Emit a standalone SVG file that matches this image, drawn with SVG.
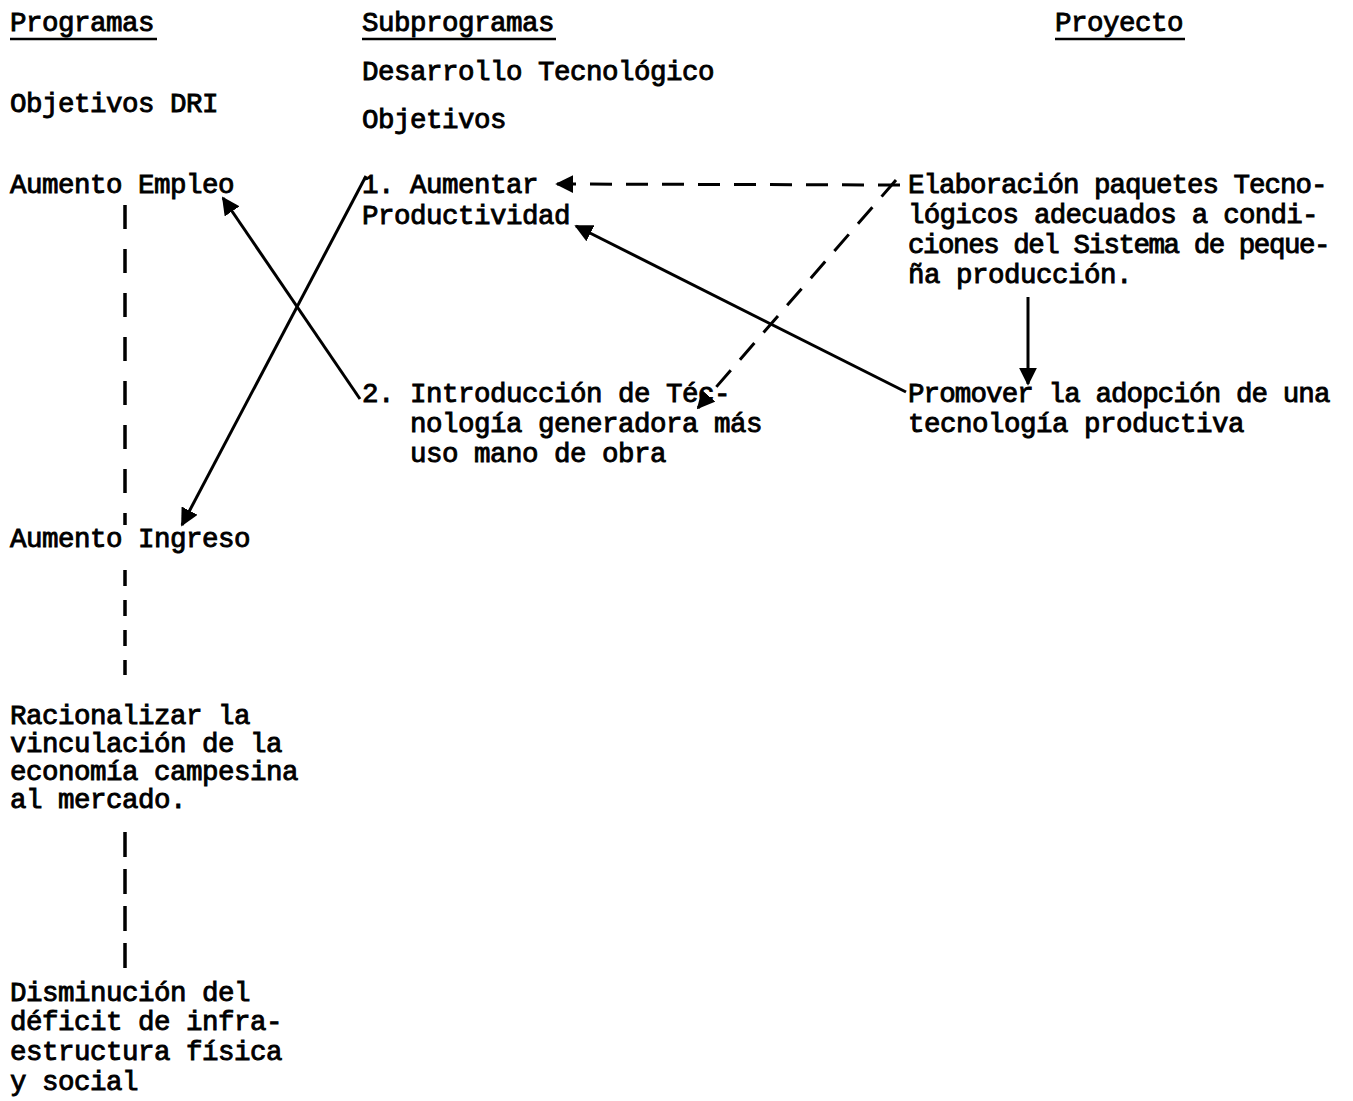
<svg xmlns="http://www.w3.org/2000/svg" width="1353" height="1101" viewBox="0 0 1353 1101">
<style>
text{font-family:"Liberation Mono","DejaVu Sans Mono",monospace;font-size:27.5px;letter-spacing:-0.5px;fill:#000;stroke:#000;stroke-width:0.9}
.ul{stroke:#000;stroke-width:2.5}
.c{stroke:#000;stroke-width:3;fill:none}
.d{stroke:#000;stroke-width:3.5;fill:none;stroke-dasharray:24 20}
.dd{stroke:#000;stroke-width:3;fill:none;stroke-dasharray:22 14}
</style>
<defs>
<marker id="ah" viewBox="0 0 10 10" refX="9" refY="5" markerWidth="6" markerHeight="6" markerUnits="strokeWidth" orient="auto">
<path d="M0,0 L10,5 L0,10 z" fill="#000"/>
</marker>
</defs>
<rect width="1353" height="1101" fill="#fff"/>

<g id="hdr-programas"><text x="10" y="31">Programas</text><line class="ul" x1="10" y1="39" x2="157" y2="39"/></g>
<g id="hdr-subprogramas"><text x="362" y="31">Subprogramas</text><line class="ul" x1="362" y1="39" x2="556" y2="39"/></g>
<g id="hdr-proyecto"><text x="1055" y="31">Proyecto</text><line class="ul" x1="1055" y1="39" x2="1185" y2="39"/></g>

<g id="desarrollo"><text x="362" y="80">Desarrollo Tecnológico</text></g>
<g id="objetivos-dri"><text x="10" y="112">Objetivos DRI</text></g>
<g id="objetivos"><text x="362" y="128">Objetivos</text></g>

<g id="aumento-empleo"><text x="10" y="193">Aumento Empleo</text></g>
<g id="aumento-ingreso"><text x="10" y="547">Aumento Ingreso</text></g>
<g id="racionalizar"><text x="10" y="724">Racionalizar la</text><text x="10" y="752">vinculación de la</text><text x="10" y="780">economía campesina</text><text x="10" y="808">al mercado.</text></g>
<g id="disminucion"><text x="10" y="1001">Disminución del</text><text x="10" y="1030">déficit de infra-</text><text x="10" y="1060">estructura física</text><text x="10" y="1090">y social</text></g>

<g id="obj1"><text x="362" y="193">1. Aumentar</text><text x="362" y="224">Productividad</text></g>
<g id="obj2"><text x="362" y="402">2. Introducción de Téc-</text><text x="410" y="432">nología generadora más</text><text x="410" y="462">uso mano de obra</text></g>

<g id="elaboracion"><text x="908" y="193" textLength="419" lengthAdjust="spacing">Elaboración paquetes Tecno-</text><text x="908" y="223" textLength="410" lengthAdjust="spacing">lógicos adecuados a condi-</text><text x="908" y="253" textLength="422" lengthAdjust="spacing">ciones del Sistema de peque-</text><text x="908" y="283">ña producción.</text></g>
<g id="promover"><text x="908" y="402" textLength="422" lengthAdjust="spacing">Promover la adopción de una</text><text x="908" y="432">tecnología productiva</text></g>

<g id="connectors">
<line class="d" x1="125" y1="205" x2="125" y2="525"/>
<line class="d" x1="125" y1="570" x2="125" y2="675" style="stroke-dasharray:16 14"/>
<line class="d" x1="125" y1="832" x2="125" y2="970" style="stroke-dasharray:25 12"/>
<line class="c" x1="360" y1="399" x2="223" y2="198" marker-end="url(#ah)"/>
<line class="c" x1="366" y1="176" x2="182" y2="525" marker-end="url(#ah)"/>
<line class="dd" x1="900" y1="185" x2="557" y2="184" marker-end="url(#ah)"/>
<line class="dd" x1="896" y1="180" x2="698" y2="408" marker-end="url(#ah)"/>
<line class="c" x1="906" y1="392" x2="576" y2="226" marker-end="url(#ah)"/>
<line class="c" x1="1028" y1="297" x2="1028" y2="384" marker-end="url(#ah)"/>
</g>
</svg>
